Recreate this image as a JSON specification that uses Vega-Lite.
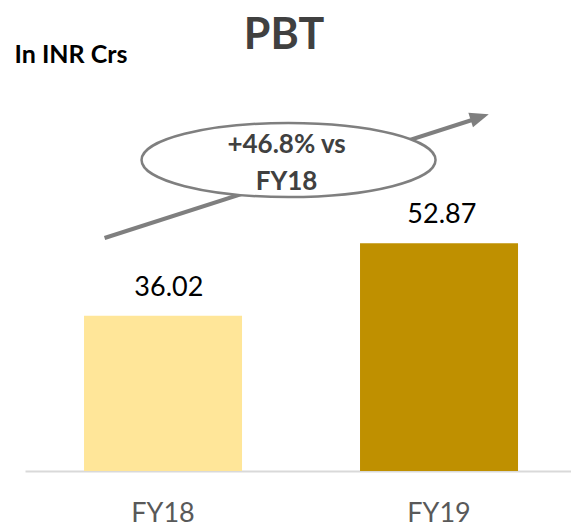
{
  "$schema": "https://vega.github.io/schema/vega-lite/v6.json",
  "width": 546,
  "height": 381,
  "autosize": {"type": "none"},
  "padding": {"left": 25, "top": 90, "right": 0, "bottom": 55},
  "background": "white",
  "config": {"view": {"stroke": null}, "font": "Lato"},
  "title": {
    "text": "PBT",
    "fontSize": 43,
    "fontWeight": "bold",
    "color": "#404040",
    "font": "Lato",
    "anchor": "middle",
    "frame": "group",
    "dx": -14,
    "baseline": "alphabetic",
    "offset": -50
  },
  "resolve": {"scale": {"x": "independent"}, "axis": {"x": "independent"}},
  "layer": [
    {
      "data": {"values": [{"year": "FY18", "pbt": 36.02}, {"year": "FY19", "pbt": 52.87}]},
      "mark": {"type": "bar"},
      "encoding": {
        "x": {
          "field": "year", "type": "nominal", "sort": null,
          "scale": {"paddingInner": 0.4275, "paddingOuter": 0.2029, "align": 0.527},
          "axis": {
            "title": null, "labelAngle": 0, "labelFontSize": 27, "labelColor": "#595959",
            "labelFont": "Lato", "ticks": false, "domainColor": "#D9D9D9", "domainWidth": 2,
            "labelBaseline": "alphabetic", "labelPadding": 50, "grid": false
          }
        },
        "y": {
          "field": "pbt", "type": "quantitative",
          "scale": {"domain": [0, 88.4], "nice": false, "zero": true},
          "axis": {
            "title": "In INR Crs", "titleAngle": 0, "titleAlign": "left", "titleBaseline": "alphabetic",
            "titleX": -11, "titleY": -28, "titleFontSize": 25, "titleFontWeight": "bold",
            "titleColor": "#000000", "titleFont": "Lato",
            "labels": false, "ticks": false, "domain": false, "grid": false
          }
        },
        "color": {
          "field": "year", "type": "nominal",
          "scale": {"domain": ["FY18", "FY19"], "range": ["#FFE699", "#BF9000"]},
          "legend": null
        }
      }
    },
    {
      "data": {"values": [{"year": "FY18", "pbt": 36.02}, {"year": "FY19", "pbt": 52.87}]},
      "mark": {"type": "text", "fontSize": 27, "color": "#000000", "baseline": "alphabetic", "dy": -20, "font": "Lato"},
      "encoding": {
        "x": {"field": "year", "type": "nominal", "sort": null, "axis": null,
              "scale": {"paddingInner": 0.4275, "paddingOuter": 0.2029, "align": 0.527}},
        "y": {"field": "pbt", "type": "quantitative"},
        "text": {"field": "pbt", "type": "quantitative", "format": ".2f"}
      }
    },
    {
      "data": {"values": [{"u": -0.2101, "v": 54.06}, {"u": 1.1341, "v": 81.55}]},
      "mark": {"type": "line", "color": "#7F7F7F", "strokeWidth": 4},
      "encoding": {
        "x": {"field": "u", "type": "quantitative", "scale": {"domain": [-0.5, 1.4891], "nice": false, "zero": false}, "axis": null},
        "y": {"field": "v", "type": "quantitative"}
      }
    },
    {
      "data": {"values": [{"u": 1.1566, "v": 82.1}]},
      "mark": {"type": "point", "shape": "M -1 -0.8 L 1 0 L -1 0.8 Z", "filled": true, "color": "#7F7F7F", "opacity": 1, "size": 361, "angle": -17.7},
      "encoding": {
        "x": {"field": "u", "type": "quantitative", "scale": {"domain": [-0.5, 1.4891], "nice": false, "zero": false}, "axis": null},
        "y": {"field": "v", "type": "quantitative"}
      }
    },
    {
      "data": {"values": [{"u": 0.4601, "v": 72.16}]},
      "mark": {"type": "point", "shape": "M -1 0 A 1 0.252 0 1 0 1 0 A 1 0.252 0 1 0 -1 0 Z", "filled": false, "fill": "white", "fillOpacity": 1, "stroke": "#7F7F7F", "strokeWidth": 2.5, "opacity": 1, "size": 86436},
      "encoding": {
        "x": {"field": "u", "type": "quantitative", "scale": {"domain": [-0.5, 1.4891], "nice": false, "zero": false}, "axis": null},
        "y": {"field": "v", "type": "quantitative"}
      }
    },
    {
      "data": {"values": [{"u": 0.4529, "v": 75.64, "label": "+46.8% vs"}, {"u": 0.4529, "v": 67.05, "label": "FY18"}]},
      "mark": {"type": "text", "fontSize": 26, "fontWeight": "bold", "color": "#404040", "baseline": "middle", "font": "Lato"},
      "encoding": {
        "x": {"field": "u", "type": "quantitative", "scale": {"domain": [-0.5, 1.4891], "nice": false, "zero": false}, "axis": null},
        "y": {"field": "v", "type": "quantitative"},
        "text": {"field": "label", "type": "nominal"}
      }
    }
  ]
}
